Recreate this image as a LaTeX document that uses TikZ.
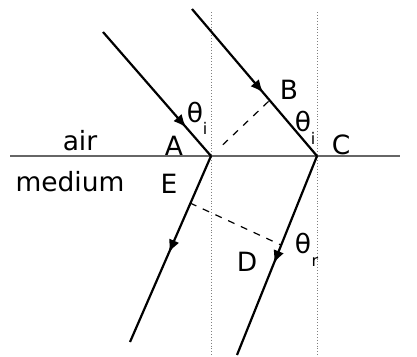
\documentclass[tikz,border=0pt]{standalone}
\usepackage{fontspec}
\setmainfont{DejaVu Sans}
\usetikzlibrary{arrows.meta,decorations.markings,calc}
\begin{document}
\begin{tikzpicture}[x=1pt,y=-1pt,
  ray/.style={line width=2.2pt,black},
  midarrow/.style={decoration={markings,mark=at position #1 with {\arrow{Latex[length=13pt,width=11pt]}}},postaction={decorate}},
  normalline/.style={gray,line width=0.9pt,dotted},
  surface/.style={gray!80!black,line width=1.3pt},
  construct/.style={black,line width=1.2pt,dash pattern=on 7pt off 7pt},
  lbl/.style={font=\fontsize{26.5}{30}\selectfont,inner sep=0pt,anchor=base},
  sub/.style={font=\fontsize{16}{19}\selectfont,inner sep=0pt,anchor=base}]
\useasboundingbox (0,0) rectangle (417,356);
% points
\coordinate (A) at (211,156);
\coordinate (C) at (317,156);
\coordinate (S1) at (103,32);
\coordinate (S2) at (192,9);
\coordinate (B) at (270,100);
\coordinate (R1) at (130,342);
\coordinate (R2) at (237,355);
\coordinate (E) at (190,203);
\coordinate (D) at (281,245);
\coordinate (L0) at (10,156);
\coordinate (L1) at (400,156);
\coordinate (NAt) at (211,12);
\coordinate (NAb) at (211,356);
\coordinate (NCt) at (317,12);
\coordinate (NCb) at (317,356);
% surface and normals
\draw[surface] (L0) -- (L1);
\draw[normalline] (NAt) -- (NAb);
\draw[normalline] (NCt) -- (NCb);
% construction lines
\draw[construct] ($(A)!0.2!(B)$) -- (B);
\draw[construct] (E) -- (D);
% rays
\draw[ray,midarrow=0.77] (S1) -- (A);
\draw[ray,midarrow=0.57] (S2) -- (C);
\draw[ray,midarrow=0.52] (A) -- (R1);
\draw[ray,midarrow=0.54] (C) -- (R2);
% labels
\node[lbl] (air) at (80,150) {air};
\node[lbl] (med) at (70,191) {medium};
\node[lbl] (lA) at (174,155) {A};
\node[lbl] (lE) at (169,193) {E};
\node[lbl] (lB) at (289,99) {B};
\node[lbl] (lC) at (341,154) {C};
\node[lbl] (lD) at (247,271) {D};
\node[lbl] (t1) at (195,122) {θ};
\node[sub] (s1) at (205,134) {i};
\node[lbl] (t2) at (303,131) {θ};
\node[sub] (s2) at (313,144) {i};
\node[lbl] (t3) at (303,253) {θ};
\node[sub] (s3) at (315,266) {r};
\end{tikzpicture}
\end{document}
